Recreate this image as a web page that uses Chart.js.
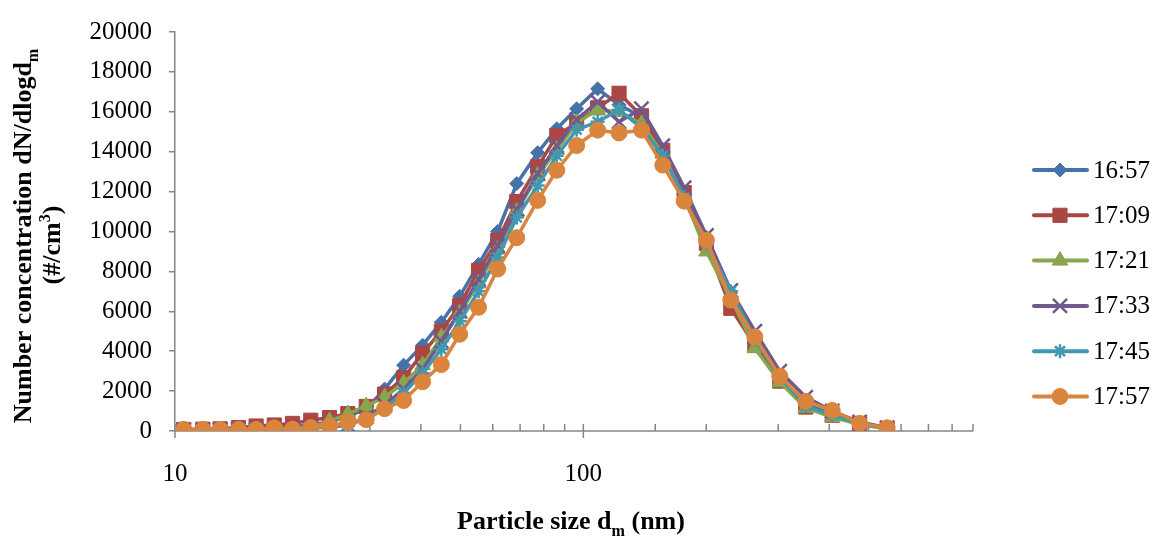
<!DOCTYPE html>
<html>
<head>
<meta charset="utf-8">
<title>Particle size distribution</title>
<script src="https://cdn.jsdelivr.net/npm/chart.js@4/dist/chart.umd.min.js"></script>
<style>
  html, body { margin: 0; padding: 0; background: #ffffff; }
  #wrap { position: relative; width: 1156px; height: 536px; }
</style>
</head>
<body>
<div id="wrap"><canvas id="c" width="1156" height="536"></canvas></div>
<script>
// Mobility diameters of the size bins (nm)
const diameters = [10.5, 11.7, 12.9, 14.3, 15.8, 17.5, 19.4, 21.5, 23.9, 26.5, 29.4, 32.6, 36.3, 40.4, 44.9,
  49.8, 55.4, 61.7, 68.7, 77.3, 86.1, 96.3, 108.4, 122.3, 138.8, 156.5, 176.6, 200.2, 229.7, 263.0,
  302.7, 350.4, 407.0, 474.9, 554.6];

// Scan start times
const scanTimes = ['16:57', '17:09', '17:21', '17:33', '17:45', '17:57'];

// dN/dlogdm (#/cm3) for each scan
const scan1657 = [60, 70, 80, 100, 130, 170, 220, 300, 450, 750, 1100, 2100, 3300, 4300, 5450,
  6750, 8350, 10000, 12400, 13950, 15150, 16150, 17150, 16350, 15750, 14000, 11850, 9700, 6950, 4400,
  2750, 1350, 850, 350, 150];
const scan1709 = [80, 90, 110, 170, 250, 300, 380, 540, 670, 870, 1230, 1850, 2670, 3900, 5000,
  6300, 8050, 9550, 11500, 13250, 14800, 15450, 16200, 16930, 15800, 14070, 11950, 9400, 6150, 4300,
  2500, 1200, 790, 380, 130];
const scan1721 = [40, 40, 40, 50, 50, 60, 50, 150, 500, 850, 1250, 1700, 2400, 3300, 4700,
  5900, 7400, 9100, 11000, 12800, 14100, 15450, 16100, 16000, 15400, 13900, 11700, 9000, 6650, 4150,
  2450, 1150, 700, 330, 110];
const scan1733 = [50, 50, 60, 60, 70, 80, 100, 150, 200, 300, 700, 1300, 2100, 3100, 4500,
  6000, 7600, 9300, 11100, 12900, 14300, 15600, 16500, 15500, 16150, 14300, 12200, 9800, 7050, 5000,
  3000, 1700, 1000, 450, 170];
const scan1745 = [60, 60, 60, 70, 70, 90, 100, 170, 220, 280, 650, 1150, 1900, 2900, 4100,
  5500, 7000, 8700, 10700, 12300, 13800, 15100, 15500, 16100, 15200, 13800, 11700, 9400, 7000, 4600,
  2700, 1250, 800, 380, 150];
const scan1757 = [80, 80, 80, 80, 80, 160, 90, 170, 250, 450, 570, 1120, 1530, 2470, 3330,
  4850, 6200, 8120, 9690, 11560, 13070, 14310, 15080, 14940, 15080, 13330, 11520, 9560, 6560, 4720,
  2750, 1490, 1030, 380, 160];

// Axis labels
const xTickLabels = [10, 100];
const yMin = 0, yMax = 20000, yStep = 2000;
const xMin = 10, xMax = 900;

const SERIF = "'Liberation Serif', 'Times New Roman', serif";
const AXIS_GREY = '#868686';

const seriesValues = [scan1657, scan1709, scan1721, scan1733, scan1745, scan1757];
const seriesColors = ['#4572A7', '#AA4643', '#89A54E', '#71588F', '#4198AF', '#DB843D'];
const seriesMarkers = [
  { style: 'rectRot', radius: 7, border: 1 },
  { style: 'rect', radius: 10, border: 1 },
  { style: 'triangle', radius: 9, border: 1 },
  { style: 'crossRot', radius: 10, border: 2.5 },
  { style: 'star', radius: 7, border: 2.5 },
  { style: 'circle', radius: 8, border: 1 }
];

const datasets = scanTimes.map((t, i) => ({
  label: t,
  data: diameters.map((d, k) => ({ x: d, y: seriesValues[i][k] })),
  borderColor: seriesColors[i],
  backgroundColor: seriesColors[i],
  borderWidth: 3.5,
  pointStyle: seriesMarkers[i].style,
  pointRadius: seriesMarkers[i].radius,
  pointHoverRadius: seriesMarkers[i].radius,
  pointBorderWidth: seriesMarkers[i].border,
  pointBorderColor: seriesColors[i],
  pointBackgroundColor: seriesColors[i],
  tension: 0,
  fill: false,
  order: scanTimes.length - i
}));

// Log x axis drawn by hand: minor ticks point into the plot, decades cross the axis
const xAxisPlugin = {
  id: 'xAxisLine',
  beforeDatasetsDraw(chart) {
    const { ctx, chartArea } = chart;
    const xs = chart.scales.x;
    const y = chartArea.bottom;
    ctx.save();
    ctx.strokeStyle = AXIS_GREY;
    ctx.lineWidth = 1.5;
    ctx.beginPath();
    ctx.moveTo(chartArea.left, y);
    ctx.lineTo(chartArea.right, y);
    ctx.stroke();
    xs.ticks.forEach(t => {
      const px = xs.getPixelForValue(t.value);
      const decade = xTickLabels.includes(t.value);
      ctx.beginPath();
      ctx.moveTo(px, y - 7);
      ctx.lineTo(px, decade ? y + 7 : y);
      ctx.stroke();
    });
    ctx.restore();
  }
};

// Draws a run of text pieces; sub/sup pieces are smaller and shifted
function drawRich(ctx, parts, x, y, size, align) {
  const widths = parts.map(p => {
    ctx.font = 'bold ' + (p.shift ? size * 0.62 : size) + 'px ' + SERIF;
    return ctx.measureText(p.text).width;
  });
  const total = widths.reduce((a, b) => a + b, 0);
  let cx = align === 'center' ? x - total / 2 : x;
  parts.forEach((p, i) => {
    ctx.font = 'bold ' + (p.shift ? size * 0.62 : size) + 'px ' + SERIF;
    const dy = p.shift === 'sub' ? size * 0.28 : p.shift === 'sup' ? -size * 0.38 : 0;
    ctx.fillText(p.text, cx, y + dy);
    cx += widths[i];
  });
}

const titlesPlugin = {
  id: 'axisTitles',
  afterDraw(chart) {
    const ctx = chart.ctx;
    ctx.save();
    ctx.fillStyle = '#000000';
    ctx.textBaseline = 'alphabetic';
    ctx.textAlign = 'left';
    drawRich(ctx, [
      { text: 'Particle size d' }, { text: 'm', shift: 'sub' }, { text: ' (nm)' }
    ], 571, 529, 26, 'center');

    ctx.rotate(-Math.PI / 2);
    drawRich(ctx, [
      { text: 'Number concentration dN/dlogd' }, { text: 'm', shift: 'sub' }
    ], -236, 31, 26, 'center');
    drawRich(ctx, [
      { text: '(#/cm' }, { text: '3', shift: 'sup' }, { text: ')' }
    ], -245, 60, 26, 'center');
    ctx.restore();
  }
};

function drawMarker(ctx, m, color, x, y) {
  ctx.fillStyle = color;
  ctx.strokeStyle = color;
  ctx.lineWidth = m.border;
  if (Chart.helpers && Chart.helpers.drawPoint) {
    Chart.helpers.drawPoint(ctx, { pointStyle: m.style, radius: m.radius, rotation: 0, borderWidth: m.border }, x, y);
  }
}

const legendPlugin = {
  id: 'lineLegend',
  afterDraw(chart) {
    const ctx = chart.ctx;
    ctx.save();
    scanTimes.forEach((t, i) => {
      const y = 170 + i * 45.3;
      ctx.strokeStyle = seriesColors[i];
      ctx.lineWidth = 4;
      ctx.lineCap = 'round';
      ctx.beginPath();
      ctx.moveTo(1034, y);
      ctx.lineTo(1087, y);
      ctx.stroke();
      ctx.lineCap = 'butt';
      drawMarker(ctx, seriesMarkers[i], seriesColors[i], 1060, y);
      ctx.fillStyle = '#000000';
      ctx.font = '25px ' + SERIF;
      ctx.textAlign = 'left';
      ctx.textBaseline = 'middle';
      ctx.fillText(t, 1093, y + 1);
    });
    ctx.restore();
  }
};

new Chart(document.getElementById('c'), {
  type: 'line',
  data: { datasets },
  options: {
    responsive: false,
    devicePixelRatio: 1,
    animation: false,
    events: [],
    layout: { padding: { left: 0, right: 183, top: 25, bottom: 0 } },
    plugins: {
      legend: { display: false },
      tooltip: { enabled: false },
      title: { display: false }
    },
    scales: {
      x: {
        type: 'logarithmic',
        min: xMin,
        max: xMax,
        grid: { display: false, drawTicks: false },
        border: { display: false },
        ticks: {
          autoSkip: false,
          maxRotation: 0,
          padding: 28,
          color: '#000000',
          font: { family: SERIF, size: 25 },
          callback: v => xTickLabels.includes(v) ? String(v) : ''
        },
        afterFit: s => { s.height = 105; }
      },
      y: {
        min: yMin,
        max: yMax,
        grid: { display: true, drawOnChartArea: false, drawTicks: true, tickLength: 6, color: AXIS_GREY, lineWidth: 1.5 },
        border: { display: true, color: AXIS_GREY, width: 1.5 },
        ticks: {
          stepSize: yStep,
          padding: 17,
          color: '#000000',
          font: { family: SERIF, size: 25 },
          callback: v => String(v)
        },
        afterFit: s => { s.width = 175; }
      }
    }
  },
  plugins: [xAxisPlugin, titlesPlugin, legendPlugin]
});
</script>
</body>
</html>
